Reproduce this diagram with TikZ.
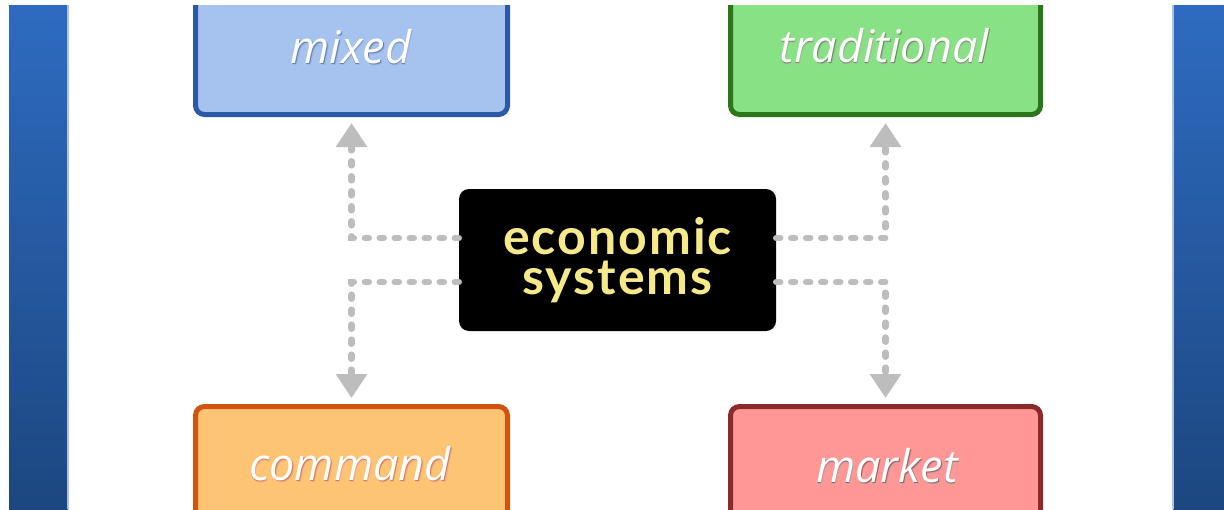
\documentclass[tikz,border=0pt]{standalone}
\usepackage{fontspec}
\usetikzlibrary{arrows.meta}
\newfontfamily\labelfont{Open Sans}
\newfontfamily\titlefont{Lato}[LetterSpace=4]

\definecolor{bandtop}{HTML}{2E6BC0}
\definecolor{bandbot}{HTML}{1C4780}
\definecolor{bandedge}{HTML}{A9C2E6}
\definecolor{mixfill}{HTML}{A5C3EE}
\definecolor{mixdraw}{HTML}{2A5AA6}
\definecolor{tradfill}{HTML}{88E184}
\definecolor{traddraw}{HTML}{2B761C}
\definecolor{comfill}{HTML}{FDC473}
\definecolor{comdraw}{HTML}{D2520F}
\definecolor{mktfill}{HTML}{FF9797}
\definecolor{mktdraw}{HTML}{8B2A2A}
\definecolor{titleyellow}{HTML}{F5E98A}
\definecolor{linkgray}{HTML}{BDBDBD}

% white label with a soft drop shadow in the given colour
\newcommand\glowtext[2]{%
  \makebox[0pt][l]{\raisebox{-2.5pt}{\hspace*{1.5pt}\textcolor{#1!45}{#2}}}%
  \makebox[0pt][l]{\raisebox{-1.2pt}{\hspace*{0.6pt}\textcolor{#1!75}{#2}}}%
  \textcolor{white}{#2}}

\tikzset{
  sysbox/.style={rectangle, rounded corners=9pt, line width=5pt,
    minimum width=312pt, inner sep=0pt},
  boxlabel/.style={font=\labelfont\itshape\fontsize{45}{45}\selectfont,
    inner sep=0pt, anchor=base},
  centerbox/.style={rectangle, rounded corners=10pt, fill=black,
    minimum width=317pt, minimum height=142pt, inner sep=0pt,
    align=center, text=titleyellow,
    font=\titlefont\bfseries\fontsize{50}{40}\selectfont},
  link/.style={draw=linkgray, line width=6.5pt, line cap=round,
    dash pattern=on 4pt off 11pt,
    -{Triangle[width=30pt,length=24pt]}},
}

\begin{document}
\begin{tikzpicture}[x=1pt,y=-1pt]
\useasboundingbox (0,0) rectangle (1224,509);
\begin{scope}
\clip (0,5) rectangle (1224,509);

% side bands
\shade[top color=bandtop, bottom color=bandbot] (9,5) rectangle (68,509);
\shade[top color=bandtop, bottom color=bandbot] (1173,5) rectangle (1224,509);
\draw[bandedge, line width=1.2pt] (68,5) -- (68,509);
\draw[bandedge, line width=1.2pt] (1173,5) -- (1173,509);

% the four kinds of economy
\node[sysbox, fill=mixfill, draw=mixdraw, minimum height=149pt] (mixed) at (351.5,40) {};
\node[sysbox, fill=tradfill, draw=traddraw, minimum width=310pt, minimum height=149pt] (trad) at (885.5,40) {};
\node[sysbox, fill=comfill, draw=comdraw, minimum height=127pt] (command) at (351.5,470) {};
\node[sysbox, fill=mktfill, draw=mktdraw, minimum width=310pt, minimum height=127pt] (market) at (885.5,470) {};

\node[boxlabel] (mixedlabel) at (351,63) {\glowtext{mixdraw}{mixed}};
\node[boxlabel] (tradlabel) at (884,62) {\glowtext{traddraw}{traditional}};
\node[boxlabel] (comlabel) at (350,480) {\glowtext{comdraw}{command}};
\node[boxlabel] (mktlabel) at (887,482) {\glowtext{mktdraw}{market}};

% centre
\node[centerbox] (econ) at (617.5,260) {economic\\systems};

% dashed links
\draw[link] ([yshift=22pt]econ.west) -| ([yshift=-6pt]mixed.south);
\draw[link] ([yshift=22pt]econ.east) -| ([yshift=-6pt]trad.south);
\draw[link] ([yshift=-22pt]econ.west) -| ([yshift=6pt]command.north);
\draw[link] ([yshift=-22pt]econ.east) -| ([yshift=6pt]market.north);
\end{scope}
\end{tikzpicture}
\end{document}
